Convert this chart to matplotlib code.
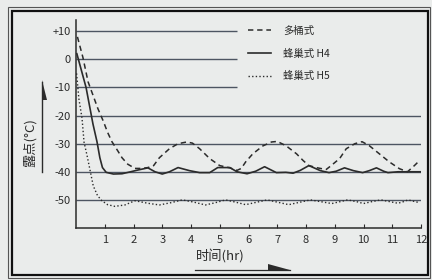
import matplotlib
matplotlib.use("Agg")
import matplotlib.pyplot as plt
from matplotlib.lines import Line2D
from matplotlib.patches import Rectangle, Polygon

plt.rcParams['font.family'] = ['Noto Sans CJK SC', 'DejaVu Sans']

# 多桶式 (dashed)
multi_x = [0.05, 0.24, 0.42, 0.6, 0.76, 0.95, 1.1, 1.25, 1.45, 1.6, 1.8, 2.05, 2.3, 2.5, 2.7,
           2.9, 3.25, 3.55, 3.85, 4.05, 4.3, 4.65, 5.0, 5.35, 5.6, 5.75, 5.9, 6.15, 6.5, 6.8,
           7.0, 7.3, 7.67, 7.9, 8.1, 8.4, 8.7, 8.85, 9.17, 9.4, 9.7, 9.95, 10.2, 10.55, 10.9,
           11.25, 11.53, 11.77, 11.95]
multi_y = [8, 0.7, -8, -13, -17.5, -22, -26, -29.3, -32.5, -35, -37.3, -38.8, -38.8, -38.5, -37.8,
           -35, -31.8, -30, -29.4, -29.8, -31.8, -35.3, -37.8, -38.6, -39.5, -38.8, -36.5, -33.6, -30.8, -29.4,
           -29.2, -30.7, -33.6, -36, -37.8, -38.6, -39.2, -38, -35.3, -31.8, -30, -29.3, -30.7, -33.6, -36.5,
           -38.9, -40, -37.8, -36]

# 蜂巢式 H4 (solid)
h4_x = [0.03, 0.35, 0.59, 0.73, 0.83, 0.92, 1.05, 1.3, 1.6, 1.9, 2.1, 2.5, 2.75, 3.0, 3.25, 3.55,
        3.95, 4.3, 4.65, 4.93, 5.35, 5.6, 5.95, 6.25, 6.56, 6.97, 7.3, 7.55, 7.8, 8.1, 8.5, 8.8,
        9.05, 9.34, 9.65, 9.97, 10.2, 10.45, 10.7, 10.85, 11.2, 11.6, 12.0]
h4_y = [2, -10, -23, -29.3, -35, -38.5, -40.2, -40.8, -40.7, -40, -39.5, -38.6, -40, -40.8, -40, -38.5,
        -39.6, -40.3, -40.3, -38.5, -38.5, -40, -40.7, -39.8, -38.2, -40.3, -40.2, -40.5, -39.5, -37.8, -39.6, -40.3,
        -39.8, -38.6, -39.6, -40.3, -39.6, -38.6, -39.8, -40.3, -40, -40, -40]

# 蜂巢式 H5 (dotted)
h5_x = [0.02, 0.1, 0.21, 0.28, 0.38, 0.5, 0.6, 0.75, 0.9, 1.1, 1.35, 1.7, 2.05, 2.5, 2.9, 3.3,
        3.7, 4.1, 4.5, 4.85, 5.2, 5.55, 5.9, 6.3, 6.65, 7.0, 7.4, 7.8, 8.15, 8.55, 8.9, 9.2,
        9.45, 9.75, 10.0, 10.3, 10.6, 10.9, 11.2, 11.4, 11.55, 11.75, 11.95]
h5_y = [-5, -14, -21, -29.5, -34, -40, -45, -48.5, -50.3, -51.7, -52.3, -51.8, -50.3, -51.2, -51.8, -51,
        -50, -50.8, -51.8, -51, -50, -50.8, -51.7, -50.8, -50, -50.8, -51.7, -50.8, -50, -50.7, -51.3, -50.6,
        -50, -50.6, -51.3, -50.6, -50, -50.6, -51.2, -50.6, -50, -50.5, -51]

series_labels = ['多桶式', '蜂巢式 H4', '蜂巢式 H5']
y_ticks = [10, 0, -10, -20, -30, -40, -50]
y_tick_labels = ['+10', '0', '-10', '-20', '-30', '-40', '-50']
x_ticks = list(range(1, 13))

bg = '#eaeceb'
ink = '#2b2b2b'
grid_c = '#4d5562'

W, H = 432, 280
fig = plt.figure(figsize=(W / 100, H / 100), dpi=100, facecolor=bg)
ax = fig.add_axes([76 / W, 1 - 228 / H, (421 - 76) / W, (228 - 20) / H])
ax.set_facecolor(bg)
ax.set_xlim(0, 12)
ax.set_ylim(-60, 14)

# horizontal reference lines
ax.hlines([10, 0, -10], 0, 5.6, colors=grid_c, lw=1.0, zorder=1)
ax.hlines([-20, -30, -40, -50], 0, 12, colors=grid_c, lw=1.0, zorder=1)

l1, = ax.plot(multi_x, multi_y, color=ink, lw=1.1, ls=(0, (3.5, 2.5)), zorder=3)
l2, = ax.plot(h4_x, h4_y, color=ink, lw=1.2, ls='-', zorder=3)
l3, = ax.plot(h5_x, h5_y, color=ink, lw=1.0, ls=(0, (1, 1.6)), zorder=3)

for s in ['top', 'right']:
    ax.spines[s].set_visible(False)
ax.spines['left'].set_color(ink)
ax.spines['bottom'].set_color(ink)
ax.spines['left'].set_linewidth(1.1)
ax.spines['bottom'].set_linewidth(1.1)

ax.set_yticks(y_ticks)
ax.set_yticklabels(y_tick_labels)
ax.set_xticks(x_ticks)
ax.tick_params(axis='y', length=0, pad=4, labelsize=8, labelcolor=ink)
ax.tick_params(axis='x', direction='in', length=3, pad=5, labelsize=8, labelcolor=ink, color=ink)

ax.legend([l1, l2, l3], series_labels, loc='upper left', bbox_to_anchor=((248 - 76) / 345, 1 - 6 / 208),
          frameon=False, fontsize=7.5, handlelength=2.2, handletextpad=1.2, labelspacing=1.2,
          borderpad=0, borderaxespad=0, labelcolor=ink)

def fx(px):
    return px / W

def fy(py):
    return 1 - py / H

# axis labels with arrows
fig.text(fx(30), fy(143), '露点(°C)', rotation=90, ha='center', va='center', fontsize=9.5, color=ink)
fig.add_artist(Line2D([fx(42), fx(42)], [fy(172), fy(82)], color=ink, lw=1.0))
fig.add_artist(Polygon([[fx(42), fy(80)], [fx(47), fy(100)], [fx(42), fy(100)]], closed=True,
                       color=ink, lw=0))

fig.text(fx(196), fy(257), '时间(hr)', ha='left', va='center', fontsize=9.5, color=ink)
fig.add_artist(Line2D([fx(195), fx(290)], [fy(270), fy(270)], color=ink, lw=0.9))
fig.add_artist(Polygon([[fx(290), fy(270)], [fx(268), fy(264)], [fx(268), fy(270)]], closed=True,
                       color=ink, lw=0))

# outer frame
fig.add_artist(Rectangle((fx(8), fy(278)), fx(422), 271 / H, fill=False, ec='#555555', lw=0.8))
fig.add_artist(Rectangle((fx(12), fy(275)), fx(416), 264 / H, fill=False, ec='#111111', lw=1.6))

fig.savefig('out.png', dpi=100, facecolor=bg)
